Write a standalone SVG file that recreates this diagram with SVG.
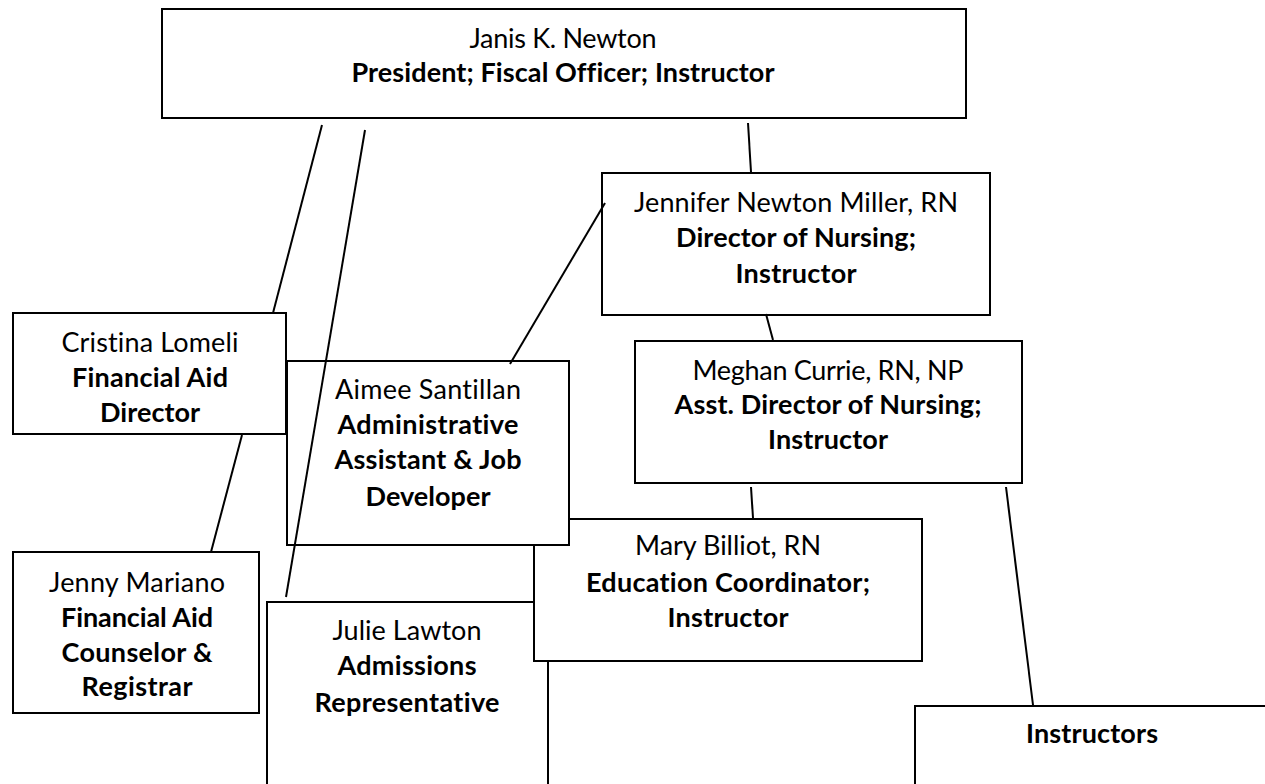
<svg xmlns="http://www.w3.org/2000/svg" width="1265" height="784" viewBox="0 0 1265 784">
<style>
.box{fill:#fff;stroke:#000;stroke-width:2}
.t{font-family:Lato,"Open Sans","Liberation Sans",sans-serif;font-size:27px;fill:#000;text-anchor:middle;font-variant-ligatures:none}
.b{font-weight:700}
.c{stroke:#000;stroke-width:2;fill:none}
</style>
<rect width="1265" height="784" fill="#fff"/>
<g id="nodes">
<g id="janis">
<rect class="box" x="162" y="9" width="804" height="109"/>
<text class="t" x="563" y="48" textLength="187">Janis K. Newton</text>
<text class="t b" x="563" y="82" textLength="423">President; Fiscal Officer; Instructor</text>
</g>
<g id="jennifer">
<rect class="box" x="602" y="173" width="388" height="142"/>
<text class="t" x="796" y="212" textLength="324">Jennifer Newton Miller, RN</text>
<text class="t b" x="796" y="247" textLength="240">Director of Nursing;</text>
<text class="t b" x="796" y="283" textLength="121">Instructor</text>
</g>
<g id="meghan">
<rect class="box" x="635" y="341" width="387" height="142"/>
<text class="t" x="828" y="380" textLength="271">Meghan Currie, RN, NP</text>
<text class="t b" x="828" y="414" textLength="307">Asst. Director of Nursing;</text>
<text class="t b" x="828" y="449" textLength="120">Instructor</text>
</g>
<g id="cristina">
<rect class="box" x="13" y="313" width="273" height="121"/>
<text class="t" x="150" y="352" textLength="177">Cristina Lomeli</text>
<text class="t b" x="150" y="387" textLength="156">Financial Aid</text>
<text class="t b" x="150" y="422" textLength="100">Director</text>
</g>
<g id="jenny">
<rect class="box" x="13" y="552" width="246" height="161"/>
<text class="t" x="137" y="592" textLength="176">Jenny Mariano</text>
<text class="t b" x="137" y="627" textLength="152">Financial Aid</text>
<text class="t b" x="137" y="662" textLength="151">Counselor &amp;</text>
<text class="t b" x="137" y="696" textLength="111">Registrar</text>
</g>
<g id="julie">
<rect class="box" x="267" y="602" width="281" height="200"/>
<text class="t" x="407" y="640" textLength="149">Julie Lawton</text>
<text class="t b" x="407" y="675" textLength="139">Admissions</text>
<text class="t b" x="407" y="712" textLength="185">Representative</text>
</g>
<g id="mary">
<rect class="box" x="534" y="519" width="388" height="142"/>
<text class="t" x="728" y="555" textLength="186">Mary Billiot, RN</text>
<text class="t b" x="728" y="592" textLength="284">Education Coordinator;</text>
<text class="t b" x="728" y="627" textLength="121">Instructor</text>
</g>
<g id="aimee">
<rect class="box" x="287" y="361" width="282" height="184"/>
<text class="t" x="428" y="399" textLength="186">Aimee Santillan</text>
<text class="t b" x="428" y="434" textLength="181">Administrative</text>
<text class="t b" x="428" y="469" textLength="187">Assistant &amp; Job</text>
<text class="t b" x="428" y="506" textLength="125">Developer</text>
</g>
<g id="instructors">
<rect class="box" x="915" y="706" width="380" height="100"/>
<text class="t b" x="1092" y="743" textLength="132">Instructors</text>
</g>
</g>
<g id="connectors">
<line class="c" x1="322" y1="125" x2="273" y2="313"/>
<line class="c" x1="365" y1="130" x2="286" y2="597"/>
<line class="c" x1="748" y1="123" x2="751" y2="172"/>
<line class="c" x1="605" y1="203" x2="510" y2="364"/>
<line class="c" x1="766" y1="314" x2="773" y2="340"/>
<line class="c" x1="242" y1="435" x2="211" y2="552"/>
<line class="c" x1="751" y1="487" x2="753" y2="518"/>
<line class="c" x1="1006" y1="487" x2="1033" y2="705"/>
</g>
</svg>
